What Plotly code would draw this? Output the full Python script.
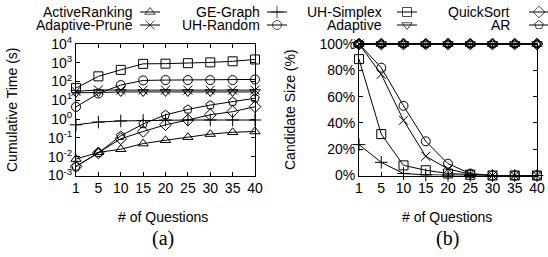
import plotly.graph_objects as go

# ---------------- data ----------------
questions = ["1", "5", "10", "15", "20", "25", "30", "35", "40"]

# (a) cumulative time (s)
time_active_ranking = [0.0075, 0.017, 0.025, 0.05, 0.075, 0.11, 0.16, 0.2, 0.22]
time_ge_graph = [0.5, 0.7, 0.8, 0.85, 0.9, 0.9, 0.9, 0.9, 0.9]
time_uh_simplex = [45, 190, 420, 880, 900, 950, 1050, 1200, 1500]
time_quicksort = [0.003, 0.016, 0.09, 0.22, 0.5, 0.9, 1.7, 2.5, 4.6]
time_adaptive_prune = [30, 36, 35, 35, 35, 35, 35, 35, 35]
time_uh_random = [4.5, 23, 65, 115, 120, 120, 120, 120, 130]
time_adaptive = [25, 27, 28, 28, 28, 28, 28, 28, 28]
time_ar = [0.003, 0.016, 0.13, 0.55, 1.7, 3.3, 5.6, 8.5, 13]

# (b) candidate size (%)
cand_active_ranking = [100, 100, 100, 100, 100, 100, 100, 100, 100]
cand_ge_graph = [23.5, 10, 1.5, 0.5, 0.3, 0, 0, 0, 0]
cand_uh_simplex = [88.5, 31.5, 7.7, 4, 1.5, 0.5, 0, 0, 0]
cand_quicksort = [100, 100, 100, 100, 100, 100, 100, 100, 100]
cand_adaptive_prune = [100, 77, 42, 14.6, 5, 1, 0, 0, 0]
cand_uh_random = [100, 82, 53, 26, 9, 1.5, 0, 0, 0]
cand_adaptive = [100, 100, 100, 100, 100, 100, 100, 100, 100]
cand_ar = [100, 100, 100, 100, 100, 100, 100, 100, 100]

names = ["ActiveRanking", "GE-Graph", "UH-Simplex", "QuickSort",
         "Adaptive-Prune", "UH-Random", "Adaptive", "AR"]
symbols = ["triangle-up-open", "cross-thin-open", "square-open", "diamond-open",
           "x-thin-open", "circle-open", "triangle-down-open", "pentagon-open"]
time_series = [time_active_ranking, time_ge_graph, time_uh_simplex, time_quicksort,
               time_adaptive_prune, time_uh_random, time_adaptive, time_ar]
cand_series = [cand_active_ranking, cand_ge_graph, cand_uh_simplex, cand_quicksort,
               cand_adaptive_prune, cand_uh_random, cand_adaptive, cand_ar]

log_tick_vals = [1e-3, 1e-2, 1e-1, 1e0, 1e1, 1e2, 1e3, 1e4]
log_tick_text = ["10<sup>-3</sup>", "10<sup>-2</sup>", "10<sup>-1</sup>", "10<sup>0</sup>",
                 "10<sup>1</sup>", "10<sup>2</sup>", "10<sup>3</sup>", "10<sup>4</sup>"]
pct_tick_vals = [0, 20, 40, 60, 80, 100]
pct_tick_text = ["0%", "20%", "40%", "60%", "80%", "100%"]

# legend layout (pixel positions in the 548x257 page)
legend_text_right = [135, 262, 384, 512]
legend_marker_x = [150, 277, 407, 539]
legend_row_y = [12, 25]

W, H = 548, 257
FONT = "Liberation Sans, Arial, sans-serif"
MSIZE = 9

fig = go.Figure()

for name, sym, ys in zip(names, symbols, time_series):
    fig.add_trace(go.Scatter(
        x=questions, y=ys, mode="lines+markers", name=name, showlegend=False,
        line=dict(color="black", width=1),
        marker=dict(symbol=sym, size=MSIZE, color="black", line=dict(color="black", width=1)),
        xaxis="x", yaxis="y", cliponaxis=False))

for name, sym, ys in zip(names, symbols, cand_series):
    fig.add_trace(go.Scatter(
        x=questions, y=ys, mode="lines+markers", name=name, showlegend=False,
        line=dict(color="black", width=1),
        marker=dict(symbol=sym, size=MSIZE, color="black", line=dict(color="black", width=1)),
        xaxis="x2", yaxis="y2", cliponaxis=False))

# custom gnuplot-style key: text then sample
annotations = []
for i, (name, sym) in enumerate(zip(names, symbols)):
    row, col = divmod(i, 4)
    cx = legend_marker_x[col]
    cy = legend_row_y[row]
    fig.add_trace(go.Scatter(
        x=[cx - 10, cx, cx + 10], y=[cy, cy, cy], mode="lines+markers", showlegend=False,
        line=dict(color="black", width=1),
        marker=dict(symbol=sym, size=[0, MSIZE, 0], color="black",
                    line=dict(color="black", width=1)),
        xaxis="x3", yaxis="y3", cliponaxis=False, hoverinfo="skip"))
    annotations.append(dict(
        x=legend_text_right[col] / W, y=1 - cy / H, xref="paper", yref="paper",
        text=name, showarrow=False, xanchor="right", yanchor="middle",
        font=dict(family=FONT, size=14, color="black")))

# titles
for txt, x, y, ang, size, fam in [
    ("Cumulative Time (s)", 12, 110, -90, 14, FONT),
    ("Candidate Size (%)", 290, 110, -90, 14, FONT),
    ("# of Questions", 163, 217, 0, 14, FONT),
    ("# of Questions", 447, 217, 0, 14, FONT),
    ("(a)", 163, 238, 0, 20, "Liberation Serif, Times New Roman, serif"),
    ("(b)", 447, 238, 0, 20, "Liberation Serif, Times New Roman, serif"),
]:
    annotations.append(dict(
        x=x / W, y=1 - y / H, xref="paper", yref="paper", text=txt, showarrow=False,
        xanchor="center", yanchor="middle", textangle=ang,
        font=dict(family=fam, size=size, color="black")))

top_px, bot_px = 44, 175.5
ydom = [1 - bot_px / H, 1 - top_px / H]

axis_common = dict(showline=True, linecolor="black", linewidth=1, mirror="ticks",
                   ticks="inside", ticklen=4, tickcolor="black", tickwidth=1,
                   showgrid=False, zeroline=False, automargin=False,
                   tickfont=dict(family=FONT, size=14, color="black"))

fig.update_layout(
    width=W, height=H, margin=dict(l=0, r=0, t=0, b=0, autoexpand=False),
    paper_bgcolor="white", plot_bgcolor="rgba(0,0,0,0)", showlegend=False,
    annotations=annotations,
    xaxis=dict(domain=[76 / W, 255 / W], type="category", range=[0, 8],
               anchor="y", **axis_common),
    yaxis=dict(domain=ydom, type="log", range=[-3, 4], anchor="x",
               tickvals=log_tick_vals, ticktext=log_tick_text, **axis_common),
    xaxis2=dict(domain=[359 / W, 537 / W], type="category", range=[0, 8],
                anchor="y2", **axis_common),
    yaxis2=dict(domain=ydom, range=[0, 100], anchor="x2",
                tickvals=pct_tick_vals, ticktext=pct_tick_text, **axis_common),
    xaxis3=dict(domain=[0, 1], range=[0, W], visible=False, anchor="y3",
                fixedrange=True, automargin=False),
    yaxis3=dict(domain=[0, 1], range=[H, 0], visible=False, anchor="x3",
                fixedrange=True, automargin=False),
)

fig.write_html("out.html", config={"displayModeBar": False, "staticPlot": True},
               post_script="document.body.style.margin='0';document.body.style.padding='0';")
